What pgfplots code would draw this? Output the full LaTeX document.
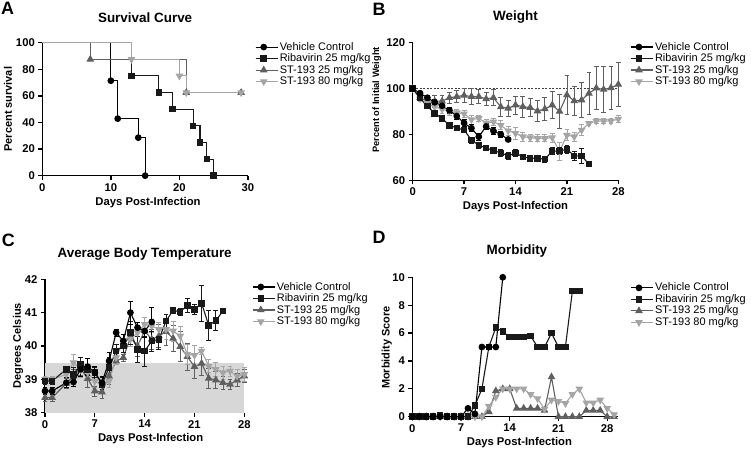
\documentclass[border=0pt]{standalone}
\usepackage{fontspec}
\setmainfont{Liberation Sans}
\usepackage{pgfplots}
\usepackage{pgfplotstable}
\pgfplotsset{compat=1.18}

\definecolor{cRib}{RGB}{25,25,25}
\definecolor{cS25}{RGB}{95,95,95}
\definecolor{cS80}{RGB}{165,165,165}
\definecolor{cBand}{RGB}{215,215,215}

\pgfplotsset{
 prism/.style={
  scale only axis, clip=false,
  axis lines*=left, xtick pos=bottom, ytick pos=left,
  axis line style={line width=1.4pt, black},
  major tick style={line width=1.3pt, black},
  tick align=outside, major tick length=4bp,
  tick label style={font=\bfseries\fontsize{11.3}{12}\selectfont},
  /pgf/number format/assume math mode=true,
  title style={font=\bfseries\fontsize{13.5}{15}\selectfont, anchor=center},
  xlabel style={font=\bfseries\fontsize{11.3}{13}\selectfont, anchor=center},
  ylabel style={font=\bfseries\fontsize{11}{13}\selectfont, anchor=center},
  legend style={draw=none, fill=none, font=\fontsize{11}{12}\selectfont, anchor=north west, inner sep=0pt, row sep=0.5bp, cells={anchor=west}, nodes={inner sep=0pt, text height=8.5bp, text depth=2.5bp}},
  legend image code/.code={\draw[mark repeat=2,mark phase=2,##1] plot coordinates {(0bp,0bp)(8bp,0bp)(16bp,0bp)}; \path (0bp,0bp) -- (22bp,0bp);},
 },
 veh/.style={black, line width=1.1pt, mark=*, mark size=2.8bp, mark options={solid, fill=black}},
 rib/.style={cRib, line width=1.1pt, mark=square*, mark size=2.7bp, mark options={solid, fill=cRib}},
 s25/.style={cS25, line width=1.1pt, mark=triangle*, mark size=3.4bp, mark options={solid, fill=cS25}},
 s80/.style={cS80, line width=1.1pt, mark=triangle*, mark size=3.4bp, mark options={solid, fill=cS80, rotate=180}},
 eb/.style={error bars/y dir=both, error bars/y explicit, error bars/error bar style={line width=0.8pt, solid}, error bars/error mark options={rotate=90, mark size=2.4bp, line width=0.8pt}},
}
\newcommand{\lgd}[1]{\hspace{1.5bp}#1}

% ---------- Weight ----------
\pgfplotstableread{
d y e
0 100 0
1 98 0.8
2 96 1
3 94 1.2
4 92.5 1.5
5 90.5 1.5
6 88 1.5
7 85 1.5
8 82.7 1.5
9 79 1.5
10 83.5 1.5
11 81.5 1.5
12 80 1.5
13 77.8 1
}\wVeh
\pgfplotstableread{
d y e
0 100 0
1 95.8 1
2 92.3 1
3 89.2 1
4 87 1
5 84 1
6 82.8 1
7 82 1.2
8 77.5 1.2
9 75.3 1.2
10 74.1 1.2
11 72.9 1.2
12 72 1.5
13 70.6 1.5
14 72 1.5
15 70.2 1.2
16 69.6 1.2
17 69.6 1.2
18 69.2 1.3
19 72.7 1.5
20 72.8 1.5
21 73.5 1.8
22 70.7 2
23 70.6 3.2
24 67.1 0
}\wRib
\pgfplotstableread{
d y e
0 100 0
1 96 1
2 94.5 2
3 94.5 2.5
4 94.5 2.5
5 96 2.5
6 96.5 2.5
7 97 3
8 96.5 3.5
9 96.5 3
10 95.5 3
11 96 3.5
12 92 4
13 91.4 3.5
14 92.8 4
15 92.1 4.5
16 91.7 4
17 90.2 4.5
18 91.1 5
19 92.8 6
20 90 7.5
21 97.2 8.5
22 94.6 6.5
23 95 7.5
24 97.9 9
25 100.2 9.5
26 99.6 10
27 100.3 9.5
28 101.8 9.5
}\wSa
\pgfplotstableread{
d y e
0 100 0
1 95.5 1
2 93.5 1.5
3 92 2
4 91 2
5 90 1.5
6 89.5 1.5
7 89 1.5
8 86.5 2
9 87 1.5
10 85 1.5
11 85.5 1.5
12 84 2
13 81.6 2
14 80.5 2.5
15 79 2
16 78.6 1.5
17 78.3 1.5
18 78.3 1.5
19 78.6 2
20 72.5 4
21 79.7 2.5
22 79 2
23 81.9 2.5
24 84.8 1
25 85.8 1
26 85.8 1
27 85.8 1
28 86.7 1.5
}\wSb

% ---------- Temperature ----------
\pgfplotstableread{
d y e
0 38.65 0.1
1 38.65 0.1
3 38.9 0.15
4 38.92 0.12
5 39.3 0.2
6 39.38 0.25
7 39.2 0.2
8 38.9 0.2
9 39.55 0.25
10 40.4 0.1
11 40.15 0.2
12 41.0 0.35
13 40.55 0.15
14 40.45 0.2
15 40.72 0.45
}\tVeh
\pgfplotstableread{
d y e
0 38.95 0.1
1 38.95 0.1
3 39.3 0.05
4 39.15 0.2
5 39.45 0.2
6 39.3 0.15
7 39.2 0.15
8 38.85 0.2
9 39.35 0.3
10 39.85 0.2
11 40.0 0.2
12 40.4 0.35
13 39.9 0.4
14 39.85 0.45
15 40.15 0.3
16 40.2 0.3
17 40.75 0.2
18 41.07 0.1
19 41.02 0.1
20 41.22 0.2
21 41.1 0.15
22 41.28 0.55
23 40.62 0.45
24 40.76 0.3
25 41.05 0.05
}\tRib
\pgfplotstableread{
d y e
0 38.45 0.1
1 38.45 0.1
3 38.88 0.15
4 39.1 0.2
5 39.32 0.2
6 39.02 0.25
7 38.65 0.15
8 38.62 0.2
9 39.1 0.25
10 39.55 0.1
11 39.65 0.1
12 40.25 0.25
13 40.0 0.3
14 40.45 0.2
15 40.2 0.3
16 40.3 0.35
17 40.43 0.4
18 40.23 0.4
19 39.98 0.45
20 39.68 0.4
21 39.38 0.35
22 39.48 0.35
23 39.03 0.3
24 38.98 0.25
25 38.9 0.2
26 38.85 0.15
27 38.98 0.2
28 39.1 0.2
}\tSa
\pgfplotstableread{
d y e
0 39.0 0.1
1 39.0 0.1
3 39.15 0.1
4 39.5 0.25
5 39.3 0.25
6 39.2 0.2
7 38.95 0.2
8 38.85 0.2
9 38.95 0.2
10 39.65 0.2
11 40.15 0.2
12 40.2 0.2
13 40.4 0.3
14 40.65 0.2
15 40.6 0.2
16 40.5 0.2
17 40.5 0.3
18 40.45 0.3
19 40.3 0.3
20 39.75 0.3
21 39.72 0.3
22 39.85 0.1
23 39.4 0.2
24 39.3 0.2
25 39.2 0.2
26 39.25 0.15
27 39.1 0.2
28 39.15 0.2
}\tSb

% ---------- Morbidity ----------
\pgfplotstableread{
d y
0 0
1 0
2 0
3 0
4 0
5 0
6 0
7 0
8 0.6
9 0.2
10 5
11 5
12 5
13 10
}\mVeh
\pgfplotstableread{
d y
0 0
1 0
2 0
3 0
4 0.1
5 0
6 0
7 0
8 0
9 0.8
10 2
11 5
12 6.4
13 6.1
14 5.7
15 5.7
16 5.7
17 5.8
18 5
19 5
20 6
21 5
22 5
23 9
24 9
}\mRib
\pgfplotstableread{
d y
0 0
1 0
2 0
3 0
4 0
5 0
6 0
7 0
8 0
9 0
10 0
11 0.35
12 1.85
13 2
14 2
15 0.6
16 0.6
17 0.6
18 0.6
19 0.45
20 2.85
21 0
22 0
23 0
24 0
25 0.45
26 0.45
27 0.45
28 0
29 0
}\mSa
\pgfplotstableread{
d y
0 0
1 0
2 0
3 0
4 0
5 0
6 0
7 0
8 0
9 0
10 0
11 0.75
12 1.4
13 2
14 2
15 2
16 2
17 1.6
18 1.3
19 0.55
20 1.2
21 1.1
22 0.95
23 1.6
24 2
25 1
26 1
27 1.2
28 0.6
29 0.15
}\mSb

\begin{document}
\begin{tikzpicture}
\useasboundingbox (0,0) rectangle (751bp,450bp);

\node[font=\bfseries\fontsize{18}{20}\selectfont] at (7.5bp,441.7bp) {A};
\node[font=\bfseries\fontsize{18}{20}\selectfont] at (379bp,441bp) {B};
\node[font=\bfseries\fontsize{18}{20}\selectfont] at (8.3bp,210bp) {C};
\node[font=\bfseries\fontsize{18}{20}\selectfont] at (379bp,213bp) {D};

% ===== A: Survival =====
\begin{axis}[prism, at={(42.3bp,274.3bp)}, anchor=south west,
  width=205.7bp, height=133bp,
  xmin=0, xmax=30, ymin=0, ymax=100,
  xtick={0,10,20,30}, ytick={0,20,40,60,80,100},
  title={Survival Curve}, title style={at={(axis description cs:0.5,1.146)}},
  xlabel={Days Post-Infection}, xlabel style={at={(axis description cs:0.514,-0.203)}},
  ylabel={Percent survival}, ylabel style={at={(axis description cs:-0.167,0.5)}},
  legend style={at={(axis description cs:1.034,1.01)}},
]
\addlegendimage{veh}\addlegendentry{\lgd{Vehicle Control}}
\addlegendimage{rib}\addlegendentry{\lgd{Ribavirin 25 mg/kg}}
\addlegendimage{s25}\addlegendentry{\lgd{ST-193 25 mg/kg}}
\addlegendimage{s80}\addlegendentry{\lgd{ST-193 80 mg/kg}}
\addplot[veh, const plot, mark=none, forget plot] coordinates {(0,100)(10,71.4)(11,42.9)(14,28.6)(15,0)};
\addplot[veh, only marks, forget plot] coordinates {(10,71.4)(11,42.9)(14,28.6)(15,0)};
\addplot[rib, const plot, mark=none, forget plot] coordinates {(0,100)(13,75)(17,62.5)(19,50)(22,37.5)(23,25)(24,12.5)(25,0)};
\addplot[rib, only marks, forget plot] coordinates {(13,75)(17,62.5)(19,50)(22,37.5)(23,25)(24,12.5)(25,0)};
\addplot[s25, const plot, mark=none, forget plot] coordinates {(0,100)(7,87.5)(21,62.5)(29,62.5)};
\addplot[s25, only marks, forget plot] coordinates {(7,87.5)(21,62.5)(29,62.5)};
\addplot[s80, const plot, mark=none, forget plot] coordinates {(0,100)(13,87.5)(20,75)(21,62.5)(29,62.5)};
\addplot[s80, only marks, forget plot] coordinates {(13,87.5)(20,75)(21,62.5)(29,62.5)};
\end{axis}

% ===== B: Weight =====
\begin{axis}[prism, at={(412.7bp,269.7bp)}, anchor=south west,
  width=205.6bp, height=137.6bp,
  xmin=0, xmax=28, ymin=60, ymax=120,
  xtick={0,7,14,21,28}, ytick={60,80,100,120},
  title={Weight}, title style={at={(axis description cs:0.5,1.145)}},
  xlabel={Days Post-Infection}, xlabel style={at={(axis description cs:0.5,-0.192)}},
  ylabel={Percent of Initial Weight}, ylabel style={at={(axis description cs:-0.175,0.584)}, font=\bfseries\fontsize{9.3}{11}\selectfont},
  legend style={at={(axis description cs:1.058,1.01)}},
]
\addlegendimage{veh}\addlegendentry{\lgd{Vehicle Control}}
\addlegendimage{rib}\addlegendentry{\lgd{Ribavirin 25 mg/kg}}
\addlegendimage{s25}\addlegendentry{\lgd{ST-193 25 mg/kg}}
\addlegendimage{s80}\addlegendentry{\lgd{ST-193 80 mg/kg}}
\addplot[black!75, line width=0.5pt, dash pattern=on 2pt off 1.5pt, forget plot] coordinates {(0,100)(28,100)};
\addplot[s25, eb, forget plot] table[x=d, y=y, y error=e] {\wSa};
\addplot[s80, eb, forget plot] table[x=d, y=y, y error=e] {\wSb};
\addplot[rib, eb, forget plot] table[x=d, y=y, y error=e] {\wRib};
\addplot[veh, eb, forget plot] table[x=d, y=y, y error=e] {\wVeh};
\end{axis}

% ===== C: Temperature =====
\begin{axis}[prism, at={(45bp,37.3bp)}, anchor=south west,
  width=199.3bp, height=133.4bp,
  xmin=0, xmax=28, ymin=38, ymax=42,
  xtick={0,7,14,21,28}, ytick={38,39,40,41,42},
  title={Average Body Temperature}, title style={at={(axis description cs:0.5,1.145)}},
  xlabel={Days Post-Infection}, xlabel style={at={(axis description cs:0.53,-0.192)}},
  ylabel={Degrees Celsius}, ylabel style={at={(axis description cs:-0.135,0.502)}},
  legend style={at={(axis description cs:1.039,0.985)}},
]
\addplot[fill=cBand, draw=none, forget plot] coordinates {(0,39.5)(28,39.5)} \closedcycle;
\addlegendimage{veh}\addlegendentry{\lgd{Vehicle Control}}
\addlegendimage{rib}\addlegendentry{\lgd{Ribavirin 25 mg/kg}}
\addlegendimage{s25}\addlegendentry{\lgd{ST-193 25 mg/kg}}
\addlegendimage{s80}\addlegendentry{\lgd{ST-193 80 mg/kg}}
\addplot[s25, eb, forget plot] table[x=d, y=y, y error=e] {\tSa};
\addplot[s80, eb, forget plot] table[x=d, y=y, y error=e] {\tSb};
\addplot[rib, eb, forget plot] table[x=d, y=y, y error=e] {\tRib};
\addplot[veh, eb, forget plot] table[x=d, y=y, y error=e] {\tVeh};
\end{axis}

% ===== D: Morbidity =====
\begin{axis}[prism, at={(412.3bp,33.3bp)}, anchor=south west,
  width=206bp, height=139.4bp,
  xmin=0, xmax=29.6, ymin=0, ymax=10,
  xtick={0,7,14,21,28}, ytick={0,2,4,6,8,10},
  title={Morbidity}, title style={at={(axis description cs:0.508,1.148)}},
  xlabel={Days Post-Infection}, xlabel style={at={(axis description cs:0.52,-0.187)}},
  ylabel={Morbidity Score}, ylabel style={at={(axis description cs:-0.124,0.496)}},
  legend style={at={(axis description cs:1.058,0.965)}},
]
\addlegendimage{veh}\addlegendentry{\lgd{Vehicle Control}}
\addlegendimage{rib}\addlegendentry{\lgd{Ribavirin 25 mg/kg}}
\addlegendimage{s25}\addlegendentry{\lgd{ST-193 25 mg/kg}}
\addlegendimage{s80}\addlegendentry{\lgd{ST-193 80 mg/kg}}
\addplot[s25, forget plot] table[x=d, y=y] {\mSa};
\addplot[s80, forget plot] table[x=d, y=y] {\mSb};
\addplot[rib, forget plot] table[x=d, y=y] {\mRib};
\addplot[veh, forget plot] table[x=d, y=y] {\mVeh};
\end{axis}
\end{tikzpicture}
\end{document}
